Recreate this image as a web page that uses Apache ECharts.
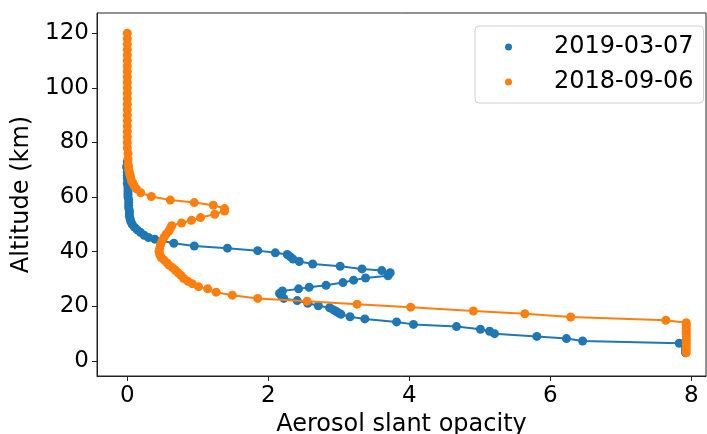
<!DOCTYPE html>
<html>
<head>
<meta charset="utf-8">
<script src="https://cdn.jsdelivr.net/npm/echarts@6/dist/echarts.min.js"></script>
<style>html,body{margin:0;padding:0;background:#fff}#c{width:707px;height:434px}</style>
</head>
<body>
<div id="c"></div>
<script>
// Series names
const seriesNames = ['2019-03-07', '2018-09-06'];
// Tick labels
const xTicks = [0, 2, 4, 6, 8];
const yTicks = [0, 20, 40, 60, 80, 100, 120];
// 2019-03-07 : [opacity, altitude km]
const blueData = [
  [0.0,73],[0.0,72],[-0.01,71],[0.0,70],[0.0,69],[0.0,68],[0.0,67],[0.01,66],[0.0,65],[0.01,64],
  [0.01,63],[0.01,62],[0.01,61],[0.01,60],[0.02,59],[0.02,58],[0.02,57],[0.02,56],[0.03,55],[0.03,54],
  [0.03,53],[0.04,52],[0.05,51],[0.07,50],[0.1,49],[0.14,48],[0.19,47],[0.24,46],[0.3,45.2],[0.39,44.6],
  [0.66,43.1],[0.95,42.1],[1.42,41.3],[1.85,40.4],[2.1,39.6],[2.27,39.0],[2.31,38.2],[2.35,37.3],[2.44,36.4],[2.63,35.5],
  [3.02,34.7],[3.33,33.7],[3.61,33.1],[3.73,32.3],[3.70,31.2],[3.38,30.4],[3.21,29.6],[3.06,28.7],[2.82,27.7],[2.58,27.0],
  [2.43,26.4],[2.2,25.6],[2.16,24.7],[2.19,23.8],[2.22,22.9],[2.41,22.1],[2.56,21.1],[2.71,20.2],[2.87,19.5],[2.92,18.8],
  [2.96,18.2],[2.99,17.7],[3.03,17.1],[3.16,16.2],[3.37,15.4],[3.82,14.3],[4.06,13.4],[4.67,12.6],[5.01,11.6],[5.14,10.9],
  [5.21,10.0],[5.81,9.0],[6.23,8.2],[6.46,7.3],[7.83,6.5],[7.92,6.0],[7.92,5.0],[7.92,4.0],[7.92,3.0]
];
// 2018-09-06 : [opacity, altitude km]
const orangeData = [
  [0.0,120],[0.0,118],[0.0,116],[0.0,114],[0.0,112],[0.0,110],[0.0,108],[0.0,106],[0.0,104],[0.0,102],
  [0.0,100],[0.0,98],[0.0,96],[0.0,94],[0.0,92],[0.0,90],[0.0,88],[0.0,86],[0.0,84],[0.0,82],
  [0.0,80],[0.0,78],[0.01,76],[0.01,74],[0.01,72],[0.02,71],[0.02,70],[0.03,69],[0.04,68],[0.05,67],
  [0.06,66],[0.08,65],[0.1,64],[0.13,63],[0.19,61.6],[0.34,60.2],[0.61,58.9],[0.95,58.0],[1.22,57.0],[1.38,55.8],
  [1.38,54.9],[1.24,53.7],[1.04,52.5],[0.91,51.5],[0.77,50.5],[0.63,49.5],[0.61,48.6],[0.59,47.6],[0.55,46.4],[0.52,45.2],
  [0.49,43.8],[0.47,42.5],[0.46,41.3],[0.45,40.2],[0.46,39.0],[0.48,37.9],[0.52,37.0],[0.56,36.0],[0.59,35.1],[0.64,34.2],
  [0.68,33.3],[0.72,32.3],[0.76,31.4],[0.8,30.2],[0.86,29.2],[0.92,28.3],[1.01,27.2],[1.14,26.4],[1.26,25.2],[1.49,24.1],
  [1.85,22.9],[2.55,21.9],[3.26,20.8],[4.02,19.7],[4.91,18.3],[5.64,17.3],[6.29,16.1],[7.64,14.9],[7.93,14.0],[7.93,13.0],
  [7.93,12.0],[7.93,11.0],[7.93,10.0],[7.93,9.0],[7.93,8.0],[7.93,7.0],[7.93,6.0],[7.93,5.0],[7.93,4.0],[7.93,3.0]
];

const chart = echarts.init(document.getElementById('c'), null, {renderer: 'canvas'});
const font = 'DejaVu Sans';
chart.setOption({
  animation: false,
  backgroundColor: '#fff',
  grid: {left: 97, right: 1, top: 13, bottom: 58, containLabel: false, outerBoundsMode: 'none',
         show: true, borderColor: '#222', borderWidth: 1, backgroundColor: 'transparent'},
  legend: {
    orient: 'vertical', left: 475, top: 26,
    padding: [8, 10, 8, 30],
    itemGap: 9, itemWidth: 7, itemHeight: 7,
    backgroundColor: 'rgba(255,255,255,0.8)', borderColor: '#d0d0d0', borderWidth: 1, borderRadius: 4,
    data: seriesNames.map(n => ({name: n, icon: 'circle'})),
    textStyle: {fontFamily: font, fontSize: 24, color: '#000', lineHeight: 26, padding: [0, 0, 0, 37]}
  },
  xAxis: {
    type: 'value', min: -0.43, max: 8.21,
    name: 'Aerosol slant opacity', nameLocation: 'middle', nameGap: 36,
    nameTextStyle: {fontFamily: font, fontSize: 24, color: '#000'},
    splitLine: {show: false},
    axisLine: {show: true, onZero: false, lineStyle: {color: '#222', width: 1}},
    axisTick: {show: true, length: 5, customValues: xTicks, lineStyle: {color: '#222'}},
    axisLabel: {customValues: xTicks, fontFamily: font, fontSize: 23, color: '#000', margin: 9}
  },
  yAxis: {
    type: 'value', min: -5.5, max: 127.4,
    name: 'Altitude (km)', nameLocation: 'middle', nameGap: 62,
    nameTextStyle: {fontFamily: font, fontSize: 24, color: '#000'},
    splitLine: {show: false},
    axisLine: {show: true, onZero: false, lineStyle: {color: '#222', width: 1}},
    axisTick: {show: true, length: 5, customValues: yTicks, lineStyle: {color: '#222'}},
    axisLabel: {customValues: yTicks, fontFamily: font, fontSize: 23, color: '#000', margin: 8}
  },
  series: [
    {name: seriesNames[0], type: 'line', data: blueData, symbol: 'circle', symbolSize: 9, showSymbol: true,
     color: '#1f77b4', lineStyle: {width: 2, color: '#1f77b4'}, itemStyle: {color: '#1f77b4'}, z: 2},
    {name: seriesNames[1], type: 'line', data: orangeData, symbol: 'circle', symbolSize: 9, showSymbol: true,
     color: '#ff7f0e', lineStyle: {width: 2, color: '#ff7f0e'}, itemStyle: {color: '#ff7f0e'}, z: 3}
  ]
});
</script>
</body>
</html>
